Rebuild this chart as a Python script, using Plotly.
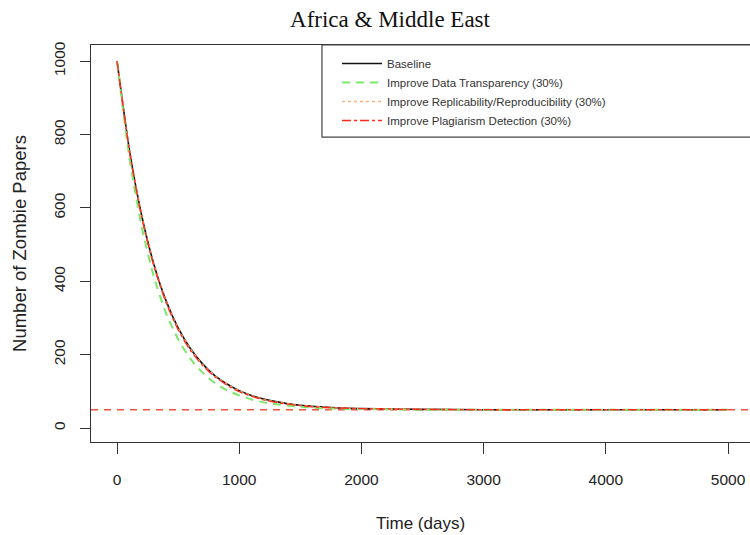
import plotly.graph_objects as go

# Time grid (days) and the number of zombie papers under each scenario
days = [0, 100, 200, 300, 400, 500, 600, 700, 800, 900, 1000, 1100, 1200, 1300,
        1400, 1500, 1600, 1700, 1800, 1900, 2000, 2500, 3000, 3500, 4000, 4500, 5000]

baseline = [1000, 761, 582, 448, 348, 273, 217, 175, 143, 120, 102, 89, 79, 72,
            66, 62, 59, 57, 55, 54, 53, 51, 50, 50, 50, 50, 50]
data_transparency = [1000, 740, 551, 414, 314, 242, 189, 151, 123, 103, 89, 78, 70, 65,
                     61, 58, 56, 54, 53, 52, 52, 50, 50, 50, 50, 50, 50]
replicability = [1000, 759, 580, 446, 346, 271, 215, 173, 142, 119, 101, 88, 78, 71,
                 66, 62, 59, 57, 55, 54, 53, 51, 50, 50, 50, 50, 50]
plagiarism = [1000, 757, 577, 443, 343, 268, 212, 171, 140, 117, 99, 87, 77, 70,
              65, 61, 58, 56, 55, 54, 53, 51, 50, 50, 50, 50, 50]

# Equilibrium level marked by a horizontal reference line
equilibrium = 50

series_names = ["Baseline",
                "Improve Data Transparency (30%)",
                "Improve Replicability/Reproducibility (30%)",
                "Improve Plagiarism Detection (30%)"]

x_ticks = [0, 1000, 2000, 3000, 4000, 5000]
y_ticks = [0, 200, 400, 600, 800, 1000]

styles = [
    dict(color="#111111", width=1.6, dash="solid"),
    dict(color="#7CE86A", width=2.0, dash="8px,6px"),
    dict(color="#FFB37A", width=1.6, dash="dot"),
    dict(color="#FF2A1A", width=1.3, dash="dashdot"),
]

fig = go.Figure()
for name, ys, st in zip(series_names,
                        [baseline, data_transparency, replicability, plagiarism],
                        styles):
    fig.add_trace(go.Scatter(x=days, y=ys, mode="lines", name=name,
                             line=dict(shape="spline", smoothing=0.6, **st)))

# horizontal line at the equilibrium level
fig.add_shape(type="line", xref="paper", x0=0, x1=1, yref="y",
              y0=equilibrium, y1=equilibrium,
              line=dict(color="#EE5544", width=1.5, dash="7px,6px"), layer="below")

# frame around the legend, running off the right edge
fig.add_shape(type="rect", xref="paper", yref="paper",
              x0=0.3505, x1=1.02, y0=0.768, y1=1.0,
              line=dict(color="#444444", width=1.2), fillcolor="rgba(0,0,0,0)")

sans = "Liberation Sans, Arial, sans-serif"
tick_font = dict(family=sans, size=15.5, color="#222222")

fig.update_layout(
    width=750, height=535,
    margin=dict(l=91, r=0, t=45, b=93),
    paper_bgcolor="white", plot_bgcolor="white",
    title=dict(text="Africa & Middle East", x=390 / 750, xanchor="center",
               y=1 - 19 / 535, yanchor="middle",
               font=dict(family="Liberation Serif, Times New Roman, serif", size=23,
                         color="#111111")),
    showlegend=True,
    legend=dict(x=(337 - 91) / 659, y=1 - 4 / 397, xanchor="left", yanchor="top",
                bgcolor="rgba(0,0,0,0)", borderwidth=0,
                font=dict(family=sans, size=11.5, color="#333333"),
                itemwidth=40),
    xaxis=dict(range=[-213, 5180], tickvals=x_ticks, ticktext=[str(v) for v in x_ticks],
               showgrid=False, zeroline=False, showline=True, linecolor="#333333",
               linewidth=1, mirror=True, ticks="outside", ticklen=11, tickcolor="#333333",
               tickfont=tick_font, ticklabelstandoff=12,
               title=dict(text="Time (days)", font=dict(family=sans, size=17, color="#222222"),
                          standoff=30)),
    yaxis=dict(range=[-38, 1044], tickvals=y_ticks, ticktext=[str(v) for v in y_ticks],
               showgrid=False, zeroline=False, showline=True, linecolor="#333333",
               linewidth=1, mirror=False, ticks="outside", ticklen=10, tickcolor="#333333",
               tickfont=tick_font, tickangle=-90, ticklabelstandoff=9,
               title=dict(text="Number of Zombie Papers",
                          font=dict(family=sans, size=18.5, color="#222222"), standoff=19)),
)

fig.write_html("out.html")
